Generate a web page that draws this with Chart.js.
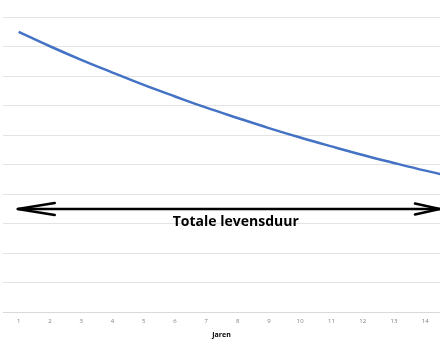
<!DOCTYPE html>
<html>
<head>
<meta charset="utf-8">
<script src="https://cdn.jsdelivr.net/npm/chart.js@4.4.1/dist/chart.umd.min.js"></script>
<style>
  html, body { margin: 0; padding: 0; background: #fff; }
  #wrap { width: 440px; height: 352px; }
</style>
</head>
<body>
<div id="wrap"><canvas id="myChart" width="440" height="352"></canvas></div>
<script>
// years on the x axis (only 1..14 get a label, the curve runs on past the edge)
let years = [1, 2, 3, 4, 5, 6, 7, 8, 9, 10, 11, 12, 13, 14, 15];
let yearLabels = [1, 2, 3, 4, 5, 6, 7, 8, 9, 10, 11, 12, 13, 14];
// value of the curve per year
let waarde = [9.5, 9.01, 8.55, 8.12, 7.70, 7.31, 6.93, 6.58, 6.24, 5.92, 5.62, 5.33, 5.06, 4.80, 4.56];
// the arrow "Totale levensduur" spans from year 1 to the end of the axis
let arrowX = [0.97, 14.47];
let arrowY = [3.5, 3.5];
let arrowLabel = 'Totale levensduur';
let labelPos = [7.94, 3.05];
let xTitle = 'Jaren';

// draws the arrow heads and the text in the middle
const arrowPlugin = {
  id: 'arrowPlugin',
  afterDatasetsDraw(chart) {
    let ctx = chart.ctx;
    let xs = chart.scales.x, ys = chart.scales.y;
    let y = ys.getPixelForValue(arrowY[0]);
    let x1 = xs.getPixelForValue(arrowX[0]);
    let x2 = xs.getPixelForValue(arrowX[1]);
    ctx.save();
    ctx.strokeStyle = '#000';
    ctx.lineWidth = 2.5;
    ctx.lineJoin = 'round';
    ctx.lineCap = 'round';
    ctx.beginPath();
    ctx.moveTo(x1 + 37, y - 6);
    ctx.lineTo(x1, y);
    ctx.lineTo(x1 + 37, y + 6);
    ctx.moveTo(x2 - 25, y - 5.5);
    ctx.lineTo(x2, y);
    ctx.lineTo(x2 - 25, y + 5.5);
    ctx.stroke();
    ctx.fillStyle = '#000';
    ctx.font = 'bold 14px "Open Sans", sans-serif';
    ctx.textAlign = 'center';
    ctx.textBaseline = 'middle';
    ctx.fillText(arrowLabel, xs.getPixelForValue(labelPos[0]), ys.getPixelForValue(labelPos[1]));
    ctx.restore();
  }
};

var ctx = document.getElementById('myChart').getContext('2d');
var chart = new Chart(ctx, {
  type: 'line',
  data: {
    datasets: [{
      data: years.map((v, i) => ({x: v, y: waarde[i]})),
      borderColor: '#4472C4',
      borderWidth: 2.5,
      pointRadius: 0,
      tension: 0.4
    }, {
      data: arrowX.map((v, i) => ({x: v, y: arrowY[i]})),
      borderColor: '#000',
      borderWidth: 2.5,
      pointRadius: 0
    }]
  },
  options: {
    responsive: false,
    animation: false,
    layout: { padding: { left: 3, right: 0, top: 17, bottom: 13 } },
    plugins: { legend: { display: false }, tooltip: { enabled: false } },
    scales: {
      x: {
        type: 'linear',
        min: 0.5,
        max: 14.47,
        afterBuildTicks: (axis) => { axis.ticks = yearLabels.map(v => ({value: v})); },
        grid: { display: false, drawTicks: false },
        border: { color: '#d9d9d9', width: 1 },
        ticks: { color: '#808080', font: { size: 6, family: '"Open Sans", sans-serif' }, padding: 5, maxRotation: 0 },
        title: { display: true, text: xTitle, color: '#000', font: { size: 7, weight: 'bold', family: '"Open Sans", sans-serif' }, padding: { top: 1, bottom: 0 } }
      },
      y: {
        min: 0,
        max: 10,
        ticks: { display: false, stepSize: 1 },
        border: { display: false },
        grid: { color: '#e3e3e3', lineWidth: 1, drawTicks: false }
      }
    }
  },
  plugins: [arrowPlugin]
});
</script>
</body>
</html>
